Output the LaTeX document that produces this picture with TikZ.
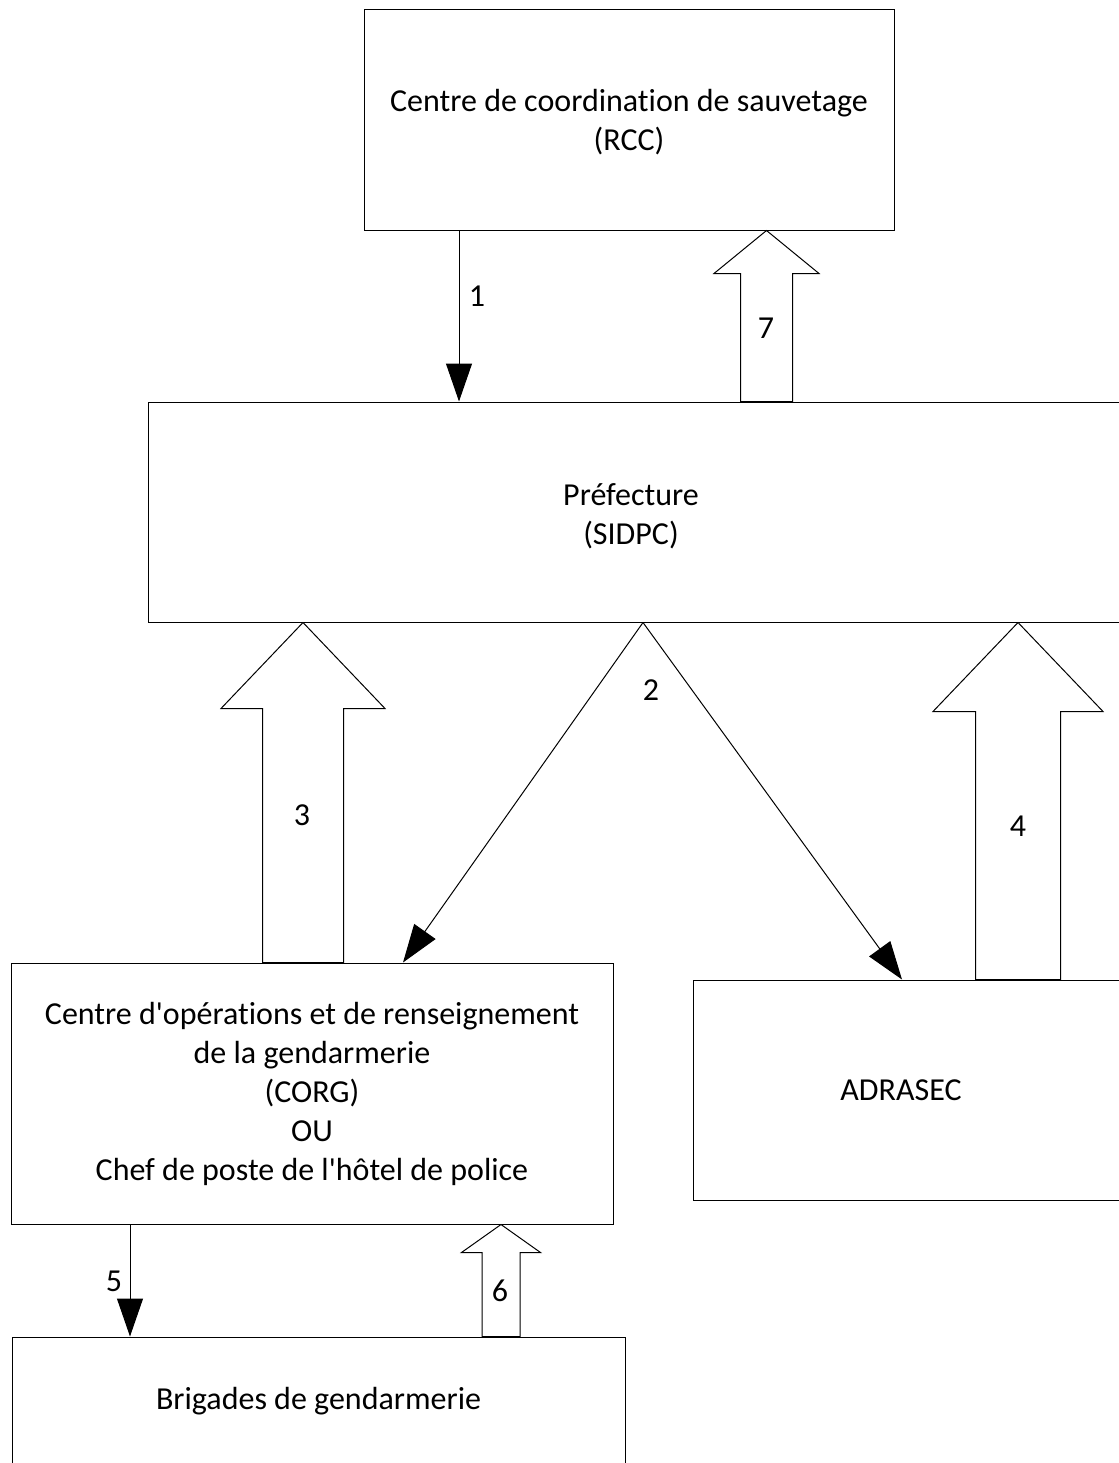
\documentclass[tikz,border=0pt]{standalone}
\usepackage{fontspec}
\setmainfont{Carlito}[Ligatures={NoCommon}]
\usetikzlibrary{arrows.meta,calc}
\newcommand\blockarrow[5]{% #1 tip, #2 base, #3 half head, #4 head length, #5 half shaft
  \draw[blk] (#1) -- ($(#1)+(#3,#4)$) -- ($(#1)+(#5,#4)$) -- ($(#2)+(#5,0)$)
    -- ($(#2)+(-#5,0)$) -- ($(#1)+(-#5,#4)$) -- ($(#1)+(-#3,#4)$) -- cycle;}
\begin{document}
\begin{tikzpicture}[x=0.75pt,y=-0.75pt,
  box/.style={draw, line width=0.75pt, inner sep=0pt, align=center,
    font=\fontsize{24}{29.25}\selectfont},
  txt/.style={inner sep=0pt, align=center, font=\fontsize{24}{29.25}\selectfont},
  num/.style={inner sep=0pt, font=\fontsize{24}{29.25}\selectfont},
  thin arrow/.style={draw, line width=0.75pt, -{Triangle[length=28.5pt,width=19.5pt]}},
  blk/.style={draw, line width=0.75pt, fill=white, line join=miter}]
\useasboundingbox (0,0) rectangle (1118,1463);
\fill[white] (0,0) rectangle (1118,1463);

% boxes
\node[box, minimum width=397.5pt, minimum height=165pt] (rcc) at (629,120) {};
\node[txt] (rcct) at (629,122) {Centre de coordination de sauvetage\\(RCC)};
\node[box, minimum width=730.5pt, minimum height=165pt] (pref) at (635,512) {};
\node[txt] (preft) at (631,516) {Préfecture\\(SIDPC)};
\node[box, minimum width=451.5pt, minimum height=195.75pt] (corg) at (312,1093.5)
  {Centre d\textquotesingle opérations et de renseignement\\de la gendarmerie\\(CORG)\\OU\\Chef de poste de l\textquotesingle hôtel de police};
\node[box, minimum width=321.75pt, minimum height=165pt] (adrasec) at (907.5,1090) {};
\node[txt] (adrasect) at (901,1090) {ADRASEC};
\node[box, minimum width=459.75pt, minimum height=96.75pt] (brig) at (318.5,1401.5)
  {Brigades de gendarmerie};

% x positions of connectors
\coordinate (x1) at (459,0);
\coordinate (x7) at (766.5,0);
\coordinate (x3) at (303,0);
\coordinate (x2) at (643,0);
\coordinate (x2a) at (403,0);
\coordinate (x2b) at (902,0);
\coordinate (x4) at (1018,0);
\coordinate (x5) at (130,0);
\coordinate (x6) at (501,0);

% thin arrows
\draw[thin arrow] (rcc.south -| x1) -- (pref.north -| x1);
\draw[thin arrow] (pref.south -| x2) -- (corg.north -| x2a);
\draw[thin arrow] (pref.south -| x2) -- (adrasec.north -| x2b);
\draw[thin arrow] (corg.south -| x5) -- (brig.north -| x5);

% block arrows
\coordinate (t7) at (rcc.south -| x7);   \coordinate (b7) at (pref.north -| x7);
\coordinate (t3) at (pref.south -| x3);  \coordinate (b3) at (corg.north -| x3);
\coordinate (t4) at (pref.south -| x4);  \coordinate (b4) at (adrasec.north -| x4);
\coordinate (t6) at (corg.south -| x6);  \coordinate (b6) at (brig.north -| x6);
\blockarrow{t7}{b7}{52.5}{43}{26}
\blockarrow{t3}{b3}{82}{86}{40.5}
\blockarrow{t4}{b4}{85}{89}{42.5}
\blockarrow{t6}{b6}{39.5}{28}{19}

% labels
\node[num] (n1) at (477,296) {1};
\node[num] (n2) at (651,690) {2};
\node[num] (n3) at (302,815) {3};
\node[num] (n4) at (1018,826) {4};
\node[num] (n5) at (114,1281) {5};
\node[num] (n6) at (500,1291) {6};
\node[num] (n7) at (766,328) {7};
\end{tikzpicture}
\end{document}
